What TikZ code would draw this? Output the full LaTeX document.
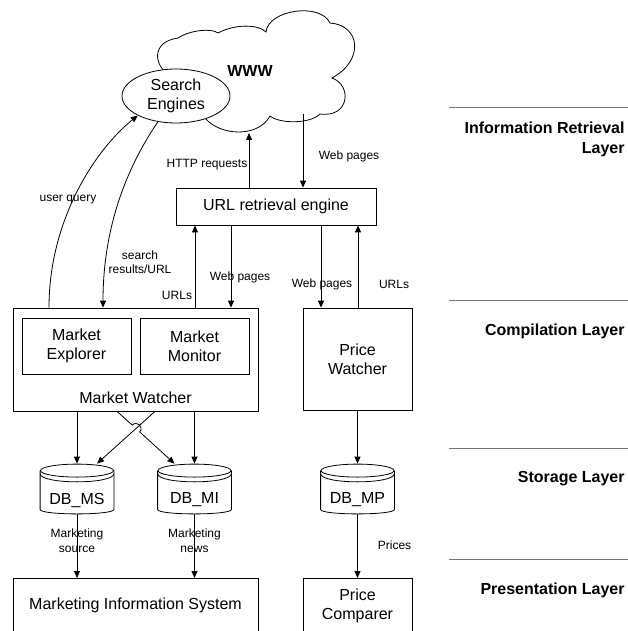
\documentclass[tikz,border=0pt]{standalone}
\usepackage{fontspec}
\setmainfont{Liberation Sans}
\usetikzlibrary{arrows.meta,shapes.geometric}

% database drum drawn round an empty node
\newcommand{\drawdb}[1]{%
\draw ([yshift=-7pt]#1.north west) -- ([yshift=5pt]#1.south west) .. controls ([yshift=-1pt]#1.south west) and ([yshift=-1pt]#1.south east) .. ([yshift=5pt]#1.south east) -- ([yshift=-7pt]#1.north east);
\draw ([yshift=-7pt]#1.north) ellipse [x radius=36.5, y radius=6.5];
\draw ([yshift=-10pt]#1.north west) .. controls ([yshift=-21pt]#1.north west) and ([yshift=-21pt]#1.north east) .. ([yshift=-10pt]#1.north east);
}

\begin{document}
\begin{tikzpicture}[x=1pt, y=-1pt, line width=0.8pt,
  every node/.style={font=\fontsize{16}{19}\selectfont},
  box/.style={draw, align=center, inner sep=0pt},
  small/.style={font=\fontsize{12}{14.5}\selectfont, align=center, inner sep=0pt},
  layer/.style={font=\fontsize{16}{20}\selectfont\bfseries, align=right, anchor=east, inner sep=0pt},
  arr/.style={-{Triangle[length=7pt,width=6pt]}},
  db/.style={minimum width=73pt, minimum height=50pt, inner sep=0pt},
  sep/.style={draw=black!55}]
\useasboundingbox (0,0) rectangle (628,631);
\clip (0,0) rectangle (628,631);

% the web
\draw (168,74) .. controls (155,66) and (150,42) .. (178,38)
  .. controls (190,30) and (212,28) .. (218,33)
  .. controls (235,24) and (258,24) .. (266,32)
  .. controls (268,10) and (320,2) .. (330,23)
  .. controls (360,25) and (365,60) .. (332,78)
  .. controls (352,85) and (350,118) .. (320,114)
  .. controls (310,124) and (280,124) .. (270,116)
  .. controls (258,138) and (220,136) .. (205,118) -- cycle;
\node[font=\fontsize{16}{19}\selectfont\bfseries] (www) at (250,71) {WWW};
\node[draw, ellipse, fill=white, minimum width=108pt, minimum height=54pt, inner sep=0pt, align=center] (se) at (176,96) {Search\\Engines};
\coordinate (httpin) at (249,133);
\coordinate (webout) at (303,114);

% boxes
\node[box, minimum width=200pt, minimum height=37pt] (url) at (276,206.5) {URL retrieval engine};
\node[box, minimum width=245pt, minimum height=103pt] (mw) at (135.5,359.5) {};
\node (mwtext) at (135.5,398) {Market Watcher};
\node[box, minimum width=109pt, minimum height=56pt] (me) at (76.5,346) {Market\\Explorer};
\node[box, minimum width=109pt, minimum height=56pt] (mm) at (194.5,346) {Market\\Monitor};
\node[box, minimum width=109pt, minimum height=102pt] (pw) at (357.5,359) {Price\\Watcher};
\node[box, minimum width=245pt, minimum height=54pt, anchor=north] (mis) at (135.5,578) {Marketing Information System};
\node[box, minimum width=109pt, minimum height=54pt, anchor=north] (pc) at (357.5,578) {Price\\Comparer};

% databases
\node[db, label={[yshift=-11pt]center:DB\_MS}] (dbms) at (77,489) {};
\node[db, label={[yshift=-11pt]center:DB\_MI}] (dbmi) at (194.5,489) {};
\node[db, label={[yshift=-11pt]center:DB\_MP}] (dbmp) at (357.5,489) {};
\drawdb{dbms}
\drawdb{dbmi}
\drawdb{dbmp}

% retrieval arrows
\draw[arr] (249,0 |- url.north) -- (httpin);
\draw[arr] (webout) -- (303,0 |- url.north);
\draw[arr] (195,0 |- mw.north) -- (195,0 |- url.south);
\draw[arr] (231,0 |- url.south) -- (231,0 |- mw.north);
\draw[arr] (321,0 |- url.south) -- (321,0 |- pw.north);
\draw[arr] (358,0 |- pw.north) -- (358,0 |- url.south);
\draw[arr] (49,0 |- mw.north) .. controls (49,220) and (95,150) .. (se.207);
\draw[arr] (se.235) .. controls (125,170) and (103,230) .. (103,0 |- mw.north);

% storage arrows
\draw[arr] (dbms.north |- mw.south) -- (dbms.north);
\draw[arr] (dbmi.north |- mw.south) -- (dbmi.north);
\draw[arr] (155,0 |- mw.south) -- ([xshift=20pt]dbms.north);
\draw[arr] (117,0 |- mw.south) -- (132.3,425.1) .. controls (136.8,420.2) and (144.2,427.0) .. (139.7,431.9) -- ([xshift=-20pt]dbmi.north);
\draw[arr] (dbms.south) -- (dbms.south |- mis.north);
\draw[arr] (dbmi.south) -- (dbmi.south |- mis.north);
\draw[arr] (pw.south) -- (dbmp.north);
\draw[arr] (dbmp.south) -- (pc.north);

% arrow labels
\node[small] (httplbl) at (207,165) {HTTP requests};
\node[small] (weblbl1) at (349,156) {Web pages};
\node[small] (uqlbl) at (68,200) {user query};
\node[small] (srlbl) at (140,262) {search\\results/URL};
\node[small] (urllbl1) at (177,295) {URLs};
\node[small] (weblbl2) at (240,277) {Web pages};
\node[small] (weblbl3) at (322,284) {Web pages};
\node[small] (urllbl2) at (394,284) {URLs};
\node[small] (mslbl) at (77,540.5) {Marketing\\source};
\node[small] (milbl) at (194.5,540.5) {Marketing\\news};
\node[small] (prlbl) at (394.5,545) {Prices};

% layers
\draw[sep] (449,107) -- (628,107);
\draw[sep] (449,300) -- (628,300);
\draw[sep] (449,448) -- (628,448);
\draw[sep] (449,559) -- (628,559);
\node[layer] (irl) at (625,139) {Information Retrieval\\Layer};
\node[layer] (cl) at (625,331) {Compilation Layer};
\node[layer] (sl) at (625,479) {Storage Layer};
\node[layer] (pl) at (625,590) {Presentation Layer};
\end{tikzpicture}
\end{document}
